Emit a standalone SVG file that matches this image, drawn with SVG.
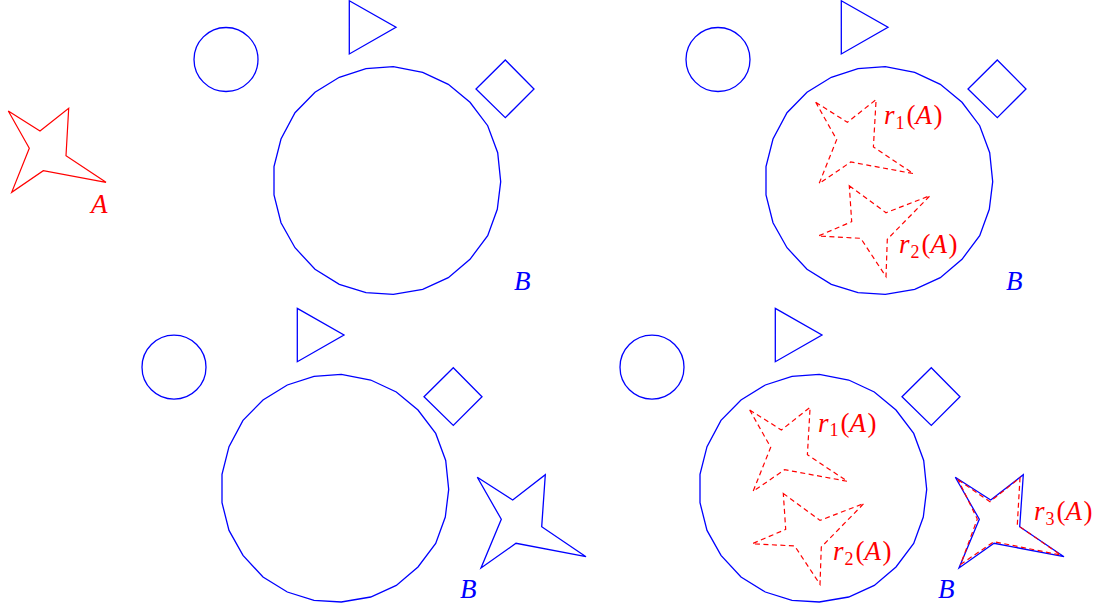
<svg xmlns="http://www.w3.org/2000/svg" xmlns:xlink="http://www.w3.org/1999/xlink" width="1098" height="605" viewBox="0 0 1098 605">
<style>
.b{fill:none;stroke:#0000ff;stroke-width:1.3;stroke-linejoin:miter}
.r{fill:none;stroke:#ff0000;stroke-width:1.2}
.rd{fill:none;stroke:#ff0000;stroke-width:1.2;stroke-dasharray:5 3.5}
.lb{font-family:"Liberation Serif",serif;font-style:italic;font-size:27px;fill:#0000ff}
.lr{font-family:"Liberation Serif",serif;font-size:27px;fill:#ff0000}
.it{font-style:italic}
.sub{font-size:18px}
</style>
<defs>
<circle id="smallCircle" cx="226" cy="59.5" r="32"/>
<polygon id="tri" points="349.3,0.7 396,27.3 349.3,54"/>
<polygon id="diamond" points="505.3,60 534,89 505.3,117.7 476,89"/>
<polygon id="bigCircle" points="393.3,66.7 366,68.7 339.3,77.3 315,92.3 295,112.7 281,139 274,166.7 274,195 281,222.7 295,247.7 315,269.3 339.3,284.3 366,292.7 393.3,294.3 422.7,289.3 448.3,277.7 470,259.3 487.7,235.7 497.3,209.3 500.7,181.7 497.7,152.7 487.7,125.7 470,102.3 448.3,84.3 422.7,72.3"/>
<polygon id="starA" points="8.3,111 40,131 68.7,108.3 66,155.7 106,182.3 43.3,170.7 11.7,192.3 29.3,148.3"/>
<polygon id="starR2" points="849.3,185.7 886,212.7 930,195.7 887.3,239.3 886,276.7 860.7,238.3 818.3,236 851.7,221.7"/>
<polygon id="starB" points="477.3,477.3 512.7,500 545.3,474.7 541.7,526.7 586,556.7 516,543.3 481,568 501.3,519.3"/>
</defs>

<g id="shape-A">
<use xlink:href="#starA" class="r"/>
<text class="lb" x="91" y="213" style="fill:#ff0000">A</text>
</g>

<g id="panel-top-middle">
<g id="tm-circle"><use xlink:href="#smallCircle" class="b"/></g>
<g id="tm-triangle"><use xlink:href="#tri" class="b"/></g>
<g id="tm-square"><use xlink:href="#diamond" class="b"/></g>
<g id="tm-B"><use xlink:href="#bigCircle" class="b"/><text class="lb" x="514" y="290">B</text></g>
</g>

<g id="panel-top-right" transform="translate(492,0)">
<g id="tr-circle"><use xlink:href="#smallCircle" class="b"/></g>
<g id="tr-triangle"><use xlink:href="#tri" class="b"/></g>
<g id="tr-square"><use xlink:href="#diamond" class="b"/></g>
<g id="tr-B"><use xlink:href="#bigCircle" class="b"/><text class="lb" x="514" y="290">B</text></g>
</g>
<g id="tr-r1">
<use xlink:href="#starA" class="rd" transform="translate(807.4,-8.7)"/>
<text class="lr" x="884" y="124"><tspan class="it">r</tspan><tspan class="sub" dx="1" dy="4.5">1</tspan><tspan dx="2" dy="-4.5">(</tspan><tspan class="it">A</tspan><tspan dx="1.5">)</tspan></text>
</g>
<g id="tr-r2">
<use xlink:href="#starR2" class="rd"/>
<text class="lr" x="899" y="253"><tspan class="it">r</tspan><tspan class="sub" dx="1" dy="4.5">2</tspan><tspan dx="2" dy="-4.5">(</tspan><tspan class="it">A</tspan><tspan dx="1.5">)</tspan></text>
</g>

<g id="panel-bottom-left" transform="translate(-52,307.7)">
<g id="bl-circle"><use xlink:href="#smallCircle" class="b"/></g>
<g id="bl-triangle"><use xlink:href="#tri" class="b"/></g>
<g id="bl-square"><use xlink:href="#diamond" class="b"/></g>
<g id="bl-disc"><use xlink:href="#bigCircle" class="b"/></g>
</g>
<g id="bl-B">
<use xlink:href="#starB" class="b"/>
<text class="lb" x="460" y="598">B</text>
</g>

<g id="panel-bottom-right" transform="translate(426,307.7)">
<g id="br-circle"><use xlink:href="#smallCircle" class="b"/></g>
<g id="br-triangle"><use xlink:href="#tri" class="b"/></g>
<g id="br-square"><use xlink:href="#diamond" class="b"/></g>
<g id="br-disc"><use xlink:href="#bigCircle" class="b"/></g>
</g>
<g id="br-r1">
<use xlink:href="#starA" class="rd" transform="translate(741.4,299)"/>
<text class="lr" x="818" y="431.7"><tspan class="it">r</tspan><tspan class="sub" dx="1" dy="4.5">1</tspan><tspan dx="2" dy="-4.5">(</tspan><tspan class="it">A</tspan><tspan dx="1.5">)</tspan></text>
</g>
<g id="br-r2">
<use xlink:href="#starR2" class="rd" transform="translate(-66,307.7)"/>
<text class="lr" x="833" y="560"><tspan class="it">r</tspan><tspan class="sub" dx="1" dy="4.5">2</tspan><tspan dx="2" dy="-4.5">(</tspan><tspan class="it">A</tspan><tspan dx="1.5">)</tspan></text>
</g>
<g id="br-B">
<use xlink:href="#starB" class="b" transform="translate(478,0)"/>
<text class="lb" x="938" y="598">B</text>
</g>
<g id="br-r3">
<polygon class="rd" points="958.3,480 990,501.7 1020,477.7 1017.3,525 1060.7,555 994,541.7 960.7,564.3 977.3,519"/>
<text class="lr" x="1034" y="520"><tspan class="it">r</tspan><tspan class="sub" dx="1" dy="4.5">3</tspan><tspan dx="2" dy="-4.5">(</tspan><tspan class="it">A</tspan><tspan dx="1.5">)</tspan></text>
</g>
<g id="connectors"/>
</svg>
